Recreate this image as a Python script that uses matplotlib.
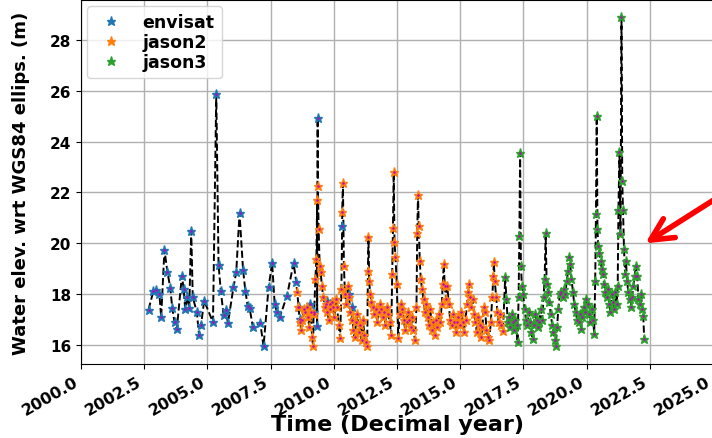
import numpy as np
import matplotlib
matplotlib.use("Agg")
import matplotlib.pyplot as plt

plt.rcParams["font.family"] = "DejaVu Sans"
plt.rcParams["font.weight"] = "bold"

# envisat (decimal year, water elevation m)
t_env = [2002.67, 2002.86, 2002.97, 2003.10, 2003.17, 2003.30, 2003.42, 2003.53, 2003.61, 2003.70,
         2003.79, 2003.99, 2004.06, 2004.12, 2004.21, 2004.28, 2004.36, 2004.42, 2004.58, 2004.67,
         2004.75, 2004.87, 2005.22, 2005.35, 2005.44, 2005.53, 2005.64, 2005.73, 2005.81, 2006.03,
         2006.14, 2006.27, 2006.41, 2006.50, 2006.59, 2006.67, 2006.80, 2007.09, 2007.22, 2007.42,
         2007.56, 2007.66, 2007.75, 2007.86, 2008.15, 2008.41, 2008.51, 2008.61, 2008.67, 2009.05,
         2009.20, 2009.34, 2009.36, 2009.73, 2009.85, 2010.33, 2010.59, 2010.72]
h_env = [17.39, 18.11, 18.16, 18.00, 17.09, 19.74, 18.86, 18.25, 17.44, 16.89,
         16.63, 18.73, 18.20, 17.42, 17.88, 17.46, 20.47, 17.88, 17.29, 16.39,
         16.80, 17.74, 16.89, 25.87, 19.16, 18.11, 17.18, 17.39, 16.85, 18.27,
         18.86, 21.19, 18.95, 18.14, 17.55, 17.44, 16.70, 16.87, 15.95, 18.27,
         19.23, 17.61, 17.29, 17.09, 17.94, 19.23, 18.49, 17.48, 17.02, 17.61,
         17.30, 16.76, 24.93, 17.74, 17.60, 20.69, 18.00, 17.48]

# jason2
t_j2 = [2008.55, 2008.60, 2008.65, 2008.70, 2008.76, 2008.81, 2008.87, 2008.92, 2008.98, 2009.03,
        2009.09, 2009.14, 2009.18, 2009.22, 2009.27, 2009.31, 2009.34, 2009.37, 2009.40, 2009.44,
        2009.48, 2009.53, 2009.58, 2009.64, 2009.69, 2009.75, 2009.80, 2009.86, 2009.91, 2009.97,
        2010.02, 2010.08, 2010.13, 2010.19, 2010.25, 2010.30, 2010.33, 2010.36, 2010.40, 2010.44,
        2010.49, 2010.55, 2010.60, 2010.66, 2010.71, 2010.77, 2010.82, 2010.88, 2010.93, 2010.99,
        2011.04, 2011.10, 2011.15, 2011.21, 2011.27, 2011.32, 2011.35, 2011.37, 2011.40, 2011.44,
        2011.49, 2011.55, 2011.60, 2011.66, 2011.71, 2011.77, 2011.82, 2011.88, 2011.93, 2011.99,
        2012.04, 2012.10, 2012.15, 2012.21, 2012.27, 2012.31, 2012.34, 2012.37, 2012.40, 2012.44,
        2012.49, 2012.55, 2012.60, 2012.66, 2012.71, 2012.77, 2012.82, 2012.88, 2012.93, 2012.99,
        2013.04, 2013.10, 2013.15, 2013.21, 2013.27, 2013.30, 2013.33, 2013.36, 2013.40, 2013.44,
        2013.49, 2013.55, 2013.60, 2013.66, 2013.71, 2013.77, 2013.82, 2013.88, 2013.93, 2013.99,
        2014.04, 2014.10, 2014.15, 2014.21, 2014.27, 2014.31, 2014.35, 2014.39, 2014.44, 2014.49,
        2014.55, 2014.60, 2014.66, 2014.71, 2014.77, 2014.82, 2014.88, 2014.93, 2014.99, 2015.04,
        2015.10, 2015.15, 2015.21, 2015.27, 2015.31, 2015.34, 2015.38, 2015.43, 2015.49, 2015.55,
        2015.60, 2015.66, 2015.71, 2015.77, 2015.82, 2015.88, 2015.93, 2015.99, 2016.04, 2016.10,
        2016.15, 2016.21, 2016.27, 2016.31, 2016.33, 2016.37, 2016.42, 2016.47, 2016.52, 2016.58,
        2016.63, 2016.69]
h_j2 = [18.07, 17.50, 16.90, 16.60, 17.00, 17.40, 17.30, 17.50, 17.10, 16.70,
        17.30, 16.30, 15.97, 17.20, 18.60, 19.40, 21.70, 22.27, 20.56, 19.12,
        18.86, 18.30, 17.90, 17.50, 17.60, 17.30, 17.00, 17.40, 17.70, 17.50,
        17.10, 17.80, 17.50, 16.80, 16.26, 18.20, 21.22, 22.36, 19.12, 18.00,
        17.60, 18.30, 17.90, 17.30, 17.00, 16.60, 16.30, 16.90, 17.20, 16.50,
        16.80, 16.20, 17.00, 16.40, 16.10, 15.95, 18.90, 20.24, 18.50, 18.00,
        17.70, 17.50, 17.20, 17.40, 16.90, 17.30, 17.60, 17.40, 17.10, 17.30,
        16.80, 17.50, 17.20, 16.90, 16.40, 18.80, 20.60, 22.79, 20.04, 19.45,
        18.40, 16.26, 17.20, 17.60, 17.40, 17.00, 16.60, 16.90, 17.30, 17.00,
        16.70, 17.10, 16.60, 16.20, 17.50, 20.40, 21.90, 20.69, 19.32, 18.60,
        18.20, 17.80, 17.30, 17.60, 17.10, 16.80, 17.40, 16.60, 16.90, 16.40,
        17.00, 16.70, 17.20, 16.90, 17.60, 18.40, 19.19, 18.30, 17.80, 18.30,
        17.60, 17.00, 16.80, 17.20, 16.90, 16.50, 16.90, 17.10, 16.80, 17.30,
        16.90, 16.50, 17.00, 17.60, 18.10, 18.40, 17.90, 17.50, 17.80, 17.20,
        16.90, 16.50, 17.10, 16.80, 16.30, 16.70, 17.50, 17.30, 16.60, 16.30,
        16.20, 16.90, 17.90, 18.70, 19.25, 18.50, 17.90, 17.30, 16.90, 17.20,
        16.80, 16.56]

# jason3
t_j3 = [2016.78, 2016.83, 2016.88, 2016.93, 2016.98, 2017.03, 2017.08, 2017.13, 2017.18, 2017.23,
        2017.27, 2017.31, 2017.34, 2017.37, 2017.40, 2017.44, 2017.49, 2017.55, 2017.60, 2017.66,
        2017.71, 2017.77, 2017.82, 2017.86, 2017.91, 2017.97, 2018.02, 2018.08, 2018.13, 2018.19,
        2018.24, 2018.30, 2018.34, 2018.38, 2018.42, 2018.47, 2018.53, 2018.58, 2018.64, 2018.69,
        2018.75, 2018.78, 2018.83, 2018.88, 2018.94, 2018.99, 2019.05, 2019.10, 2019.16, 2019.21,
        2019.27, 2019.31, 2019.35, 2019.40, 2019.46, 2019.51, 2019.57, 2019.62, 2019.68, 2019.73,
        2019.77, 2019.82, 2019.88, 2019.93, 2019.99, 2020.04, 2020.10, 2020.15, 2020.21, 2020.26,
        2020.30, 2020.34, 2020.37, 2020.40, 2020.43, 2020.46, 2020.50, 2020.55, 2020.60, 2020.64,
        2020.69, 2020.74, 2020.79, 2020.84, 2020.89, 2020.94, 2020.99, 2021.04, 2021.09, 2021.14,
        2021.19, 2021.23, 2021.26, 2021.30, 2021.34, 2021.38, 2021.41, 2021.44, 2021.48, 2021.52,
        2021.56, 2021.60, 2021.65, 2021.70, 2021.75, 2021.80, 2021.85, 2021.90, 2021.95, 2022.00,
        2022.05, 2022.10, 2022.15, 2022.20, 2022.24, 2022.28]
h_j3 = [18.66, 17.81, 16.90, 17.10, 16.70, 17.20, 16.90, 16.60, 17.00, 16.80,
        16.10, 17.90, 20.30, 23.55, 19.12, 18.33, 18.00, 17.40, 17.00, 16.80,
        17.30, 16.90, 16.50, 16.24, 16.80, 17.20, 17.00, 16.70, 16.90, 17.40,
        17.00, 17.90, 18.60, 20.39, 18.40, 18.10, 17.70, 17.20, 16.80, 16.50,
        16.20, 15.97, 16.70, 17.40, 18.00, 18.10, 17.90, 18.20, 18.00, 18.50,
        18.90, 19.47, 19.20, 18.60, 18.10, 17.60, 17.30, 17.00, 16.90, 17.20,
        16.63, 17.10, 17.50, 17.30, 17.80, 17.60, 17.20, 16.90, 17.40, 17.00,
        16.43, 18.50, 21.15, 25.02, 20.56, 19.91, 19.60, 19.30, 19.00, 18.80,
        18.40, 18.10, 17.90, 18.20, 17.60, 17.30, 18.00, 17.70, 17.40, 18.10,
        17.60, 18.30, 21.32, 23.60, 20.37, 28.89, 22.46, 21.32, 19.78, 18.79,
        19.30, 18.50, 18.10, 17.80, 17.50, 17.90, 18.30, 18.70, 19.12, 18.73,
        17.81, 17.60, 18.00, 17.40, 17.15, 16.24]

series = [("envisat", t_env, h_env, "tab:blue"),
          ("jason2", t_j2, h_j2, "tab:orange"),
          ("jason3", t_j3, h_j3, "tab:green")]

fig = plt.figure(figsize=(7.12, 4.39), dpi=100)
ax = fig.add_axes([0.1138, 0.1686, 0.8876, 0.829])

# all missions joined in time order for the dashed line
t_all = np.concatenate([t_env, t_j2, t_j3])
h_all = np.concatenate([h_env, h_j2, h_j3])
order = np.argsort(t_all)
ax.plot(t_all[order], h_all[order], "k--", lw=1.4, zorder=2)

for name, t, h, col in series:
    ax.plot(t, h, "*", color=col, ms=6.5, label=name, zorder=3)
    ax.plot(t, h, ".", color="m", ms=1.5, zorder=4)

ax.set_xlim(2000, 2025)
ax.set_ylim(15.25, 29.57)
ax.set_xticks(np.arange(2000, 2025.1, 2.5))
ax.set_xticklabels(["%.1f" % v for v in np.arange(2000, 2025.1, 2.5)],
                   rotation=30, ha="right", fontsize=11.5, fontweight="bold")
ax.set_yticks([16, 18, 20, 22, 24, 26, 28])
ax.tick_params(axis="y", labelsize=11)
for lab in ax.get_yticklabels():
    lab.set_fontweight("bold")
ax.grid(True, lw=1)
ax.set_axisbelow(True)

ax.set_xlabel("Time (Decimal year)", fontsize=16, fontweight="bold")
ax.xaxis.set_label_coords(0.5, -0.138)
ax.set_ylabel("Water elev. wrt WGS84 ellips. (m)", fontsize=13, fontweight="bold")
ax.yaxis.set_label_coords(-0.08, 0.5)

leg = ax.legend(loc="upper left", prop={"size": 12.5, "weight": "bold"},
                numpoints=1, borderaxespad=0.35, labelspacing=0.12)

# red arrow pointing at the 2022 end of the record
ax.annotate("", xy=(0.903, 0.44), xycoords="figure fraction",
            xytext=(1.01, 0.55), textcoords="figure fraction",
            arrowprops=dict(arrowstyle="->", color="red", lw=4, mutation_scale=40))

fig.savefig("out.png", dpi=100)
